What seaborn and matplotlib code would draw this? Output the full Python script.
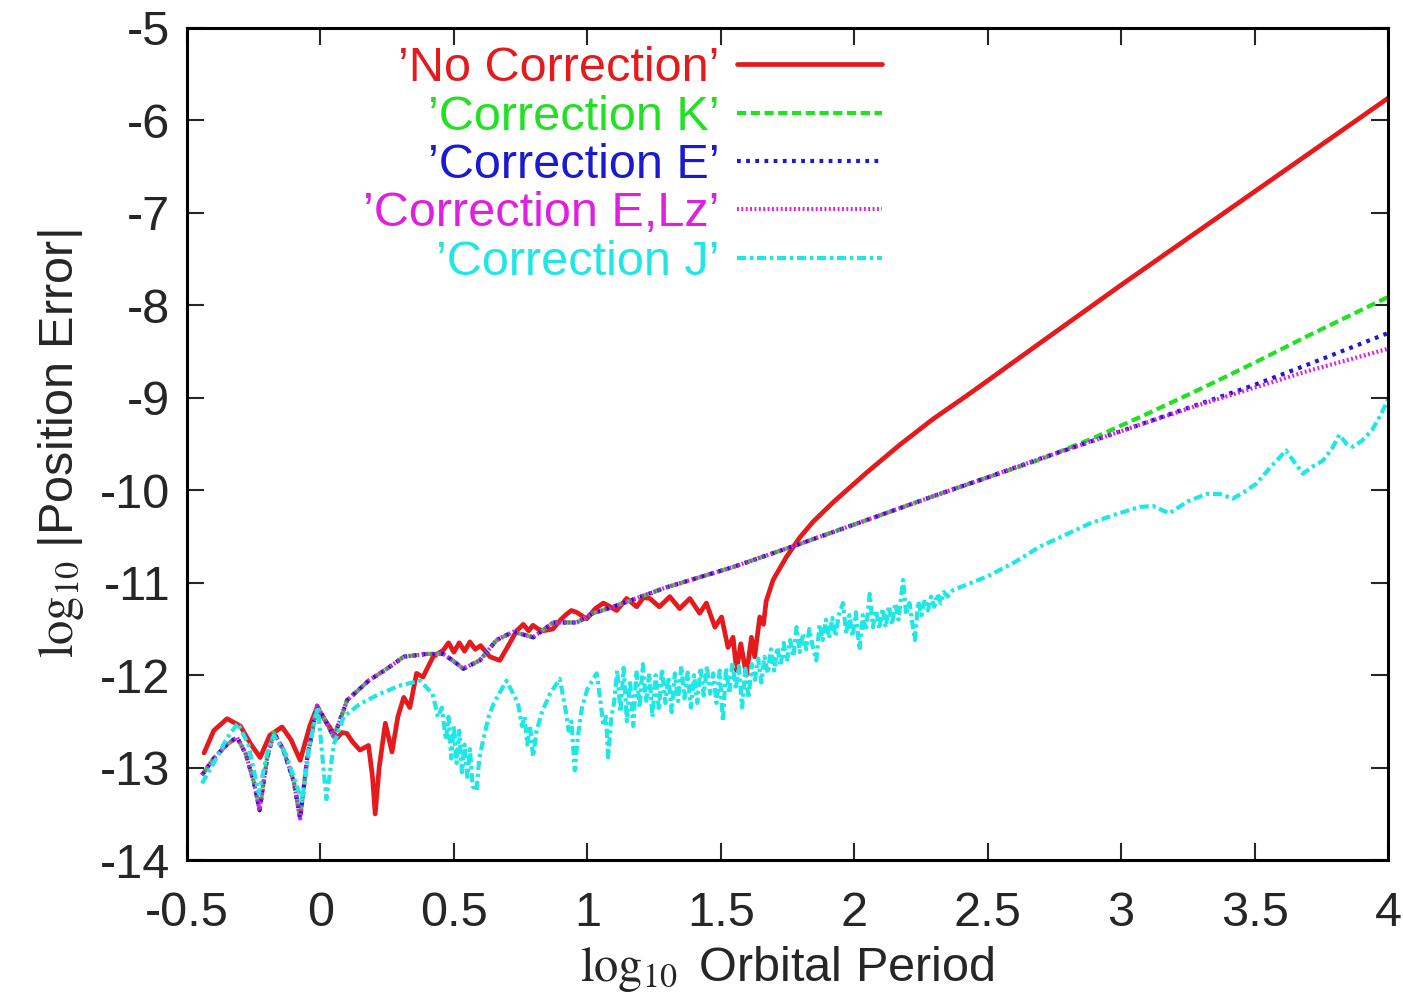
import numpy as np
import pandas as pd
import matplotlib.pyplot as plt
import seaborn as sns

# Data (log10 period, log10 |position error|)
# --------------

no_corr_x = [-0.436, -0.40, -0.35, -0.30, -0.26, -0.226, -0.19, -0.144, -0.11, -0.076,
             -0.04, -0.013, 0.02, 0.062, 0.080, 0.099, 0.12, 0.148, 0.18, 0.195,
             0.205, 0.22, 0.243, 0.268, 0.29, 0.312, 0.335, 0.36, 0.384, 0.422,
             0.46, 0.48, 0.50, 0.52, 0.54, 0.56, 0.58, 0.60, 0.635, 0.672,
             0.70, 0.735, 0.76, 0.78, 0.796, 0.815, 0.834, 0.871, 0.90, 0.922,
             0.94, 0.96, 0.997, 1.03, 1.06, 1.08, 1.11, 1.147, 1.185, 1.21,
             1.234, 1.27, 1.309, 1.346, 1.384, 1.421, 1.446, 1.478, 1.503, 1.527,
             1.546, 1.559, 1.575, 1.596, 1.615, 1.627, 1.646, 1.66, 1.67, 1.696,
             1.72, 1.746, 1.77, 1.796, 1.846, 1.921, 2.046, 2.17, 2.295, 2.42,
             2.507, 2.695, 3.0, 3.5, 4.0]
no_corr_y = [-12.84, -12.60, -12.47, -12.55, -12.75, -12.89, -12.65, -12.56, -12.70, -12.92,
             -12.55, -12.35, -12.50, -12.68, -12.62, -12.63, -12.72, -12.81, -12.76, -13.10,
             -13.50, -13.00, -12.52, -12.83, -12.45, -12.24, -12.35, -11.98, -12.02, -11.80,
             -11.73, -11.65, -11.75, -11.65, -11.74, -11.64, -11.72, -11.68, -11.80, -11.84,
             -11.70, -11.52, -11.45, -11.52, -11.46, -11.50, -11.52, -11.50, -11.40, -11.34,
             -11.30, -11.32, -11.39, -11.28, -11.22, -11.25, -11.30, -11.17, -11.26, -11.16,
             -11.17, -11.26, -11.15, -11.28, -11.17, -11.33, -11.22, -11.48, -11.37, -11.70,
             -11.59, -11.95, -11.66, -12.00, -11.59, -11.80, -11.37, -11.45, -11.20, -10.97,
             -10.85, -10.72, -10.62, -10.51, -10.34, -10.13, -9.81, -9.51, -9.23, -8.98,
             -8.80, -8.41, -7.78, -6.77, -5.76]

# the K, E and E,Lz corrections coincide up to log P ~ 2.7
shared_x = [-0.444, -0.40, -0.35, -0.313, -0.28, -0.25, -0.228, -0.20, -0.175, -0.14,
            -0.10, -0.076, -0.05, -0.013, 0.02, 0.05, 0.10, 0.18, 0.249, 0.312,
            0.398, 0.46, 0.50, 0.535, 0.597, 0.66, 0.722, 0.797, 0.872, 0.96,
            1.022, 1.097, 1.296, 1.546, 1.796, 2.0, 2.3, 2.5]
shared_y = [-13.08, -12.90, -12.75, -12.67, -12.85, -13.15, -13.46, -12.90, -12.62, -12.80,
            -13.15, -13.55, -12.90, -12.33, -12.50, -12.67, -12.27, -12.06, -11.93, -11.80,
            -11.77, -11.77, -11.85, -11.93, -11.84, -11.62, -11.53, -11.59, -11.43, -11.43,
            -11.33, -11.26, -11.05, -10.83, -10.58, -10.37, -10.06, -9.86]

corr_k_tail_x = [2.695, 2.9, 3.1, 3.3, 3.5, 3.7, 3.85, 4.0]
corr_k_tail_y = [-9.67, -9.43, -9.17, -8.90, -8.62, -8.33, -8.12, -7.91]
corr_e_tail_x = [2.695, 3.0, 3.3, 3.5, 3.7, 3.85, 4.0]
corr_e_tail_y = [-9.66, -9.36, -9.06, -8.86, -8.64, -8.47, -8.30]
corr_elz_tail_x = [2.695, 3.0, 3.3, 3.5, 3.7, 3.85, 4.0]
corr_elz_tail_y = [-9.66, -9.36, -9.07, -8.89, -8.71, -8.59, -8.47]

# Correction J: oscillating start, noisy band, then smooth-ish rise
corr_j_head_x = [-0.444, -0.40, -0.35, -0.31, -0.27, -0.231, -0.20, -0.175, -0.13, -0.069,
                 -0.04, -0.01, 0.022, 0.05, 0.087, 0.148, 0.223, 0.30, 0.373, 0.42,
                 0.44, 0.455, 0.47, 0.48, 0.49, 0.50, 0.51, 0.52, 0.53, 0.54,
                 0.55, 0.56, 0.57, 0.585, 0.595, 0.61, 0.63, 0.65, 0.697, 0.74,
                 0.755, 0.765, 0.775, 0.785, 0.797, 0.81, 0.83, 0.86, 0.897, 0.92,
                 0.93, 0.94, 0.953, 0.965, 0.98, 1.00, 1.035, 1.05, 1.06, 1.07,
                 1.078, 1.09]
corr_j_head_y = [-13.17, -12.95, -12.68, -12.52, -12.75, -13.28, -12.85, -12.65, -12.85, -13.36,
                 -12.75, -12.34, -13.34, -12.75, -12.45, -12.31, -12.20, -12.11, -12.06, -12.20,
                 -12.45, -12.35, -12.70, -12.45, -12.90, -12.55, -12.95, -12.60, -13.05, -12.75,
                 -13.10, -12.80, -13.20, -13.25, -12.90, -12.70, -12.45, -12.30, -12.06, -12.30,
                 -12.55, -12.45, -12.75, -12.55, -12.88, -12.60, -12.40, -12.20, -12.04, -12.40,
                 -12.60, -12.50, -13.03, -12.65, -12.35, -12.15, -11.98, -12.30, -12.55, -12.45,
                 -12.89, -12.45]
corr_j_band_x = [1.100, 1.112, 1.124, 1.136, 1.148, 1.160, 1.172, 1.184, 1.196, 1.208,
                 1.220, 1.232, 1.244, 1.256, 1.268, 1.280, 1.292, 1.304, 1.316, 1.328,
                 1.340, 1.352, 1.364, 1.376, 1.388, 1.400, 1.412, 1.424, 1.436, 1.448,
                 1.460, 1.472, 1.484, 1.496, 1.508, 1.520, 1.532, 1.544, 1.556, 1.568,
                 1.580, 1.592, 1.604, 1.616, 1.628, 1.640, 1.652, 1.664, 1.676, 1.688,
                 1.700, 1.712, 1.724, 1.736, 1.748, 1.760, 1.772, 1.784, 1.796, 1.808,
                 1.820, 1.832, 1.844, 1.858, 1.870, 1.882, 1.894, 1.906, 1.918, 1.930,
                 1.942, 1.958, 1.970, 1.982, 1.994, 2.006, 2.020, 2.032, 2.044, 2.058,
                 2.070, 2.082, 2.094, 2.106, 2.118, 2.130, 2.142, 2.154, 2.166, 2.183,
                 2.195, 2.207, 2.227, 2.240, 2.252, 2.264, 2.276, 2.288, 2.300, 2.312,
                 2.324, 2.336, 2.350, 2.370]
corr_j_band_y = [-12.30, -11.95, -12.40, -11.92, -12.50, -12.05, -12.55, -11.95, -12.35, -11.88,
                 -12.30, -11.98, -12.45, -12.00, -12.38, -11.93, -12.30, -12.02, -12.40, -11.98,
                 -12.28, -11.90, -12.25, -11.97, -12.35, -12.00, -12.30, -11.92, -12.22, -11.90,
                 -12.20, -11.98, -12.30, -11.95, -12.50, -11.92, -12.20, -11.86, -12.15, -11.90,
                 -12.35, -11.93, -12.25, -11.88, -12.05, -11.82, -12.08, -11.80, -11.98, -11.72,
                 -11.95, -11.70, -11.90, -11.65, -11.85, -11.62, -11.80, -11.48, -11.75, -11.55,
                 -11.72, -11.50, -11.68, -11.84, -11.45, -11.62, -11.40, -11.60, -11.38, -11.58,
                 -11.35, -11.22, -11.55, -11.35, -11.58, -11.32, -11.73, -11.35, -11.52, -11.12,
                 -11.48, -11.30, -11.50, -11.28, -11.48, -11.25, -11.45, -11.22, -11.40, -10.97,
                 -11.35, -11.22, -11.62, -11.20, -11.35, -11.18, -11.30, -11.15, -11.26, -11.12,
                 -11.22, -11.10, -11.15, -11.08]
corr_j_tail_x = [2.395, 2.50, 2.60, 2.695, 2.80, 2.882, 2.98, 3.07, 3.12, 3.18,
                 3.25, 3.32, 3.37, 3.419, 3.46, 3.506, 3.56, 3.618, 3.65, 3.681,
                 3.72, 3.756, 3.79, 3.818, 3.845, 3.868, 3.90, 3.94, 3.97, 4.0]
corr_j_tail_y = [-11.05, -10.93, -10.78, -10.61, -10.47, -10.36, -10.26, -10.18, -10.17, -10.25,
                 -10.12, -10.04, -10.04, -10.09, -10.02, -9.93, -9.75, -9.57, -9.70, -9.82,
                 -9.74, -9.68, -9.55, -9.40, -9.50, -9.53, -9.47, -9.35, -9.20, -9.02]

labels = ["\u2019No Correction\u2019", "\u2019Correction K\u2019", "\u2019Correction E\u2019",
          "\u2019Correction E,Lz\u2019", "\u2019Correction J\u2019"]
colors = ["#e41a1c", "#22e022", "#1a1ad0", "#e020e0", "#20e6e6"]

# Set-up
# --------------
sns.set_theme(style="white")
plt.rcParams["font.family"] = ["Liberation Sans", "DejaVu Sans"]
plt.rcParams["mathtext.fontset"] = "stix"
plt.rcParams["axes.unicode_minus"] = False

series = [
    (no_corr_x, no_corr_y),
    (shared_x + corr_k_tail_x, shared_y + corr_k_tail_y),
    (shared_x + corr_e_tail_x, shared_y + corr_e_tail_y),
    (shared_x + corr_elz_tail_x, shared_y + corr_elz_tail_y),
    (corr_j_head_x + corr_j_band_x + corr_j_tail_x,
     corr_j_head_y + corr_j_band_y + corr_j_tail_y),
]
styles = ["-", (0, (2.2, 1.1)), (0, (0.9, 1.3)), (0, (0.45, 0.6)), (0, (2.2, 0.9, 0.8, 0.9))]
widths = [3.4, 3.0, 3.0, 3.0, 3.0]

figure = plt.figure(figsize=(14.03, 9.99), dpi=100)
ax = figure.add_axes([0.1333, 0.139, 0.856, 0.833])

for (xs, ys), lab, col, ls, w in zip(series, labels, colors, styles, widths):
    frame = pd.DataFrame({"x": xs, "y": ys})
    sns.lineplot(data=frame, x="x", y="y", color=col, linestyle=ls,
                 lw=w, estimator=None, sort=False, label=lab, ax=ax)

ax.set_xlim(-0.5, 4)
ax.set_ylim(-14, -5)
ax.set_xticks(np.arange(-0.5, 4.01, 0.5))
ax.set_xticklabels(["-0.5", "0", "0.5", "1", "1.5", "2", "2.5", "3", "3.5", "4"])
ax.set_yticks(np.arange(-14, -4.9, 1))
ax.tick_params(direction="in", length=12, width=1.5, labelsize=35, pad=12,
               top=True, right=True, bottom=True, left=True)
ax.tick_params(axis="x", pad=22)
for spine in ax.spines.values():
    spine.set_color("black")
    spine.set_linewidth(2.2)

ax.set_xlabel(r"$\log_{10}$ Orbital Period", fontsize=35, labelpad=6)
ax.set_ylabel(r"$\log_{10}\,$|Position Error|", fontsize=35, labelpad=10)

# Legend: text first, right aligned, coloured like the lines
leg = ax.legend(loc="upper right", bbox_to_anchor=(0.579, 0.978), markerfirst=False,
                frameon=False, labelcolor="linecolor", fontsize=35,
                handlelength=3.0, handletextpad=0.35, labelspacing=0.07,
                borderaxespad=0, borderpad=0)

figure.savefig("out.png", dpi=100)
